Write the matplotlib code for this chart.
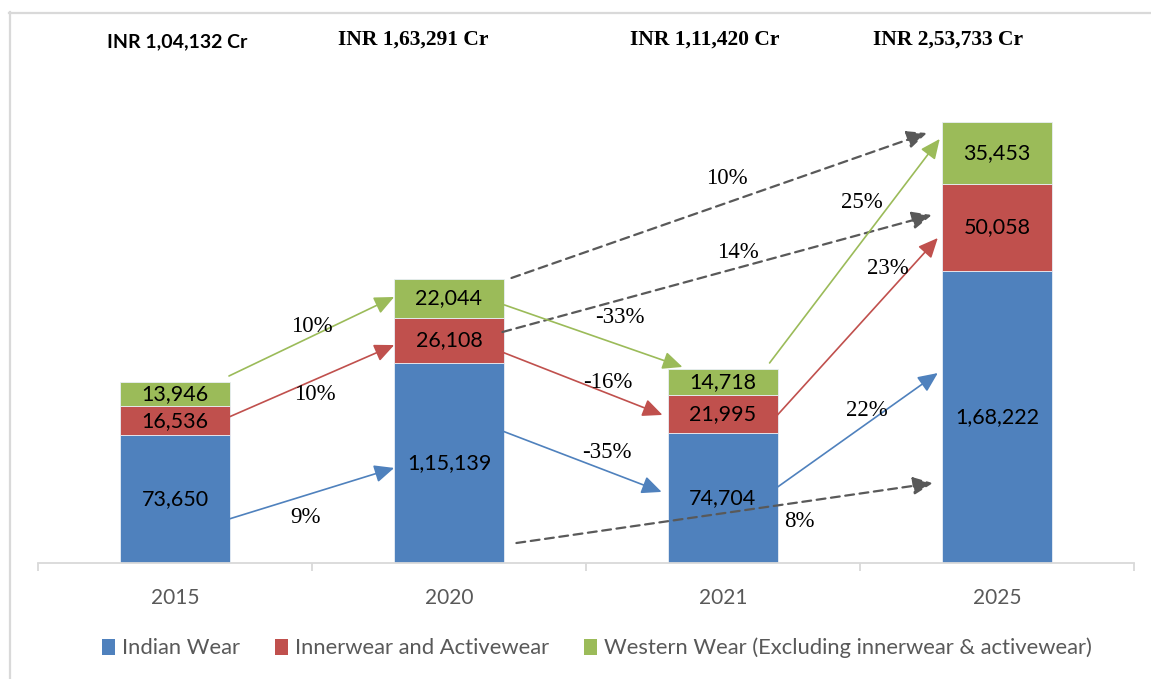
import matplotlib
matplotlib.use("Agg")
import matplotlib.pyplot as plt
import numpy as np
from matplotlib.patches import Patch

# ---------------- data ----------------
years = ["2015", "2020", "2021", "2025"]
indian_wear = [73650, 115139, 74704, 168222]
innerwear = [16536, 26108, 21995, 50058]
western_wear = [13946, 22044, 14718, 35453]
totals_text = ["INR 1,04,132 Cr", "INR 1,63,291 Cr", "INR 1,11,420 Cr", "INR 2,53,733 Cr"]
series_names = ["Indian Wear", "Innerwear and Activewear",
                "Western Wear (Excluding innerwear & activewear)"]
value_labels = [["73,650", "1,15,139", "74,704", "1,68,222"],
                ["16,536", "26,108", "21,995", "50,058"],
                ["13,946", "22,044", "14,718", "35,453"]]

# growth arrows: (colour key, label, start(x,y), end(x,y), label position) -- annotation geometry
growth_arrows = [
    ("g", "10%", (0.197, 107600), (0.800, 153056), (0.50, 135800)),
    ("r", "10%", (0.197, 84000), (0.800, 125400), (0.51, 96700)),
    ("b", "9%", (0.197, 25300), (0.800, 54700), (0.475, 25900)),
    ("d", "10%", (1.228, 164000), (2.744, 247400), (2.013, 221500)),
    ("d", "14%", (1.195, 132900), (2.762, 200200), (2.053, 178400)),
    ("g", "-33%", (1.202, 148500), (1.852, 112800), (1.622, 141000)),
    ("r", "-16%", (1.166, 123100), (1.779, 85200), (1.578, 104100)),
    ("b", "-35%", (1.166, 77700), (1.776, 40900), (1.578, 63300)),
    ("d", "8%", (1.246, 11500), (2.766, 46000), (2.280, 23600)),
    ("g", "25%", (2.170, 115100), (2.791, 244000), (2.506, 207700)),
    ("r", "23%", (2.199, 85200), (2.784, 187000), (2.601, 169700)),
    ("b", "22%", (2.199, 43700), (2.784, 109300), (2.525, 88000)),
]

colors = {"b": "#4F81BD", "r": "#C0504D", "g": "#9BBB59", "d": "#595959"}
bar_colors = [colors["b"], colors["r"], colors["g"]]

W, H = 1151, 679
fig = plt.figure(figsize=(W / 100, H / 100), dpi=100)
ax = fig.add_axes([38 / W, (H - 563) / H, (1134 - 38) / W, (563 - 100) / H])

x = np.arange(len(years))
series = [indian_wear, innerwear, western_wear]
bottom = np.zeros(len(years))
for k, vals in enumerate(series):
    vals = np.array(vals, dtype=float)
    ax.bar(x, vals, 0.4, bottom=bottom, color=bar_colors[k],
           edgecolor="#E8EEF6", linewidth=0.6, zorder=2)
    for i in range(len(years)):
        ax.text(x[i], bottom[i] + vals[i] / 2, value_labels[k][i],
                ha="center", va="center", fontsize=15.5, family="Lato",
                color="black", zorder=5)
    bottom += vals

ax.set_xlim(-0.5, len(years) - 0.5)
ax.set_ylim(0, 266400)
for s in ["top", "right", "left"]:
    ax.spines[s].set_visible(False)
ax.spines["bottom"].set_color("#D9D9D9")
ax.spines["bottom"].set_linewidth(1.3)
ax.set_yticks([])
ax.set_xticks(x)
ax.set_xticklabels(years, fontsize=15, family="Lato", color="#595959")
ax.set_xticks(np.arange(-0.5, len(years)), minor=True)
ax.tick_params(axis="x", which="major", length=0, pad=18)
ax.tick_params(axis="x", which="minor", length=6, width=1.3, color="#D9D9D9")

for key, lab, (x0, y0), (x1, y1), (lx, ly) in growth_arrows:
    dashed = key == "d"
    ax.annotate("", xy=(x1, y1), xytext=(x0, y0), xycoords="data",
                arrowprops=dict(arrowstyle="-|>,head_length=0.6,head_width=0.27",
                                mutation_scale=20, color=colors[key],
                                lw=1.6 if dashed else 1.2,
                                linestyle=(0, (4, 2.5)) if dashed else "-",
                                shrinkA=0, shrinkB=0), zorder=4)
    ax.text(lx, ly, lab, ha="center", va="center", fontsize=16.5,
            family="Liberation Serif", color="black", zorder=6)

# total labels
tot_x = [177, 413, 705, 948]
for i, t in enumerate(totals_text):
    if i == 0:
        fig.text(tot_x[i] / W, 1 - 42 / H, t, ha="center", va="center",
                 fontsize=14, family="Lato", fontweight="bold")
    else:
        fig.text(tot_x[i] / W, 1 - 40 / H, t, ha="center", va="center",
                 fontsize=15.5, family="Liberation Serif", fontweight="bold")

# legend
handles = [Patch(facecolor=c, edgecolor="none") for c in bar_colors]
fig.legend(handles, series_names, loc="center", bbox_to_anchor=(597 / W, 1 - 648 / H),
           ncol=3, frameon=False, prop={"family": "Lato", "size": 15.8},
           labelcolor="#595959", handlelength=0.6, handleheight=0.75,
           handletextpad=0.3, columnspacing=1.6)

# chart border (top and left)
fig.add_artist(plt.Line2D([9 / W, 1.0], [1 - 12.5 / H, 1 - 12.5 / H],
                          transform=fig.transFigure, color="#D9D9D9", lw=1.6))
fig.add_artist(plt.Line2D([9.5 / W, 9.5 / W], [0, 1 - 12 / H],
                          transform=fig.transFigure, color="#D9D9D9", lw=1.6))

fig.savefig("out.png", dpi=100, facecolor="white")
